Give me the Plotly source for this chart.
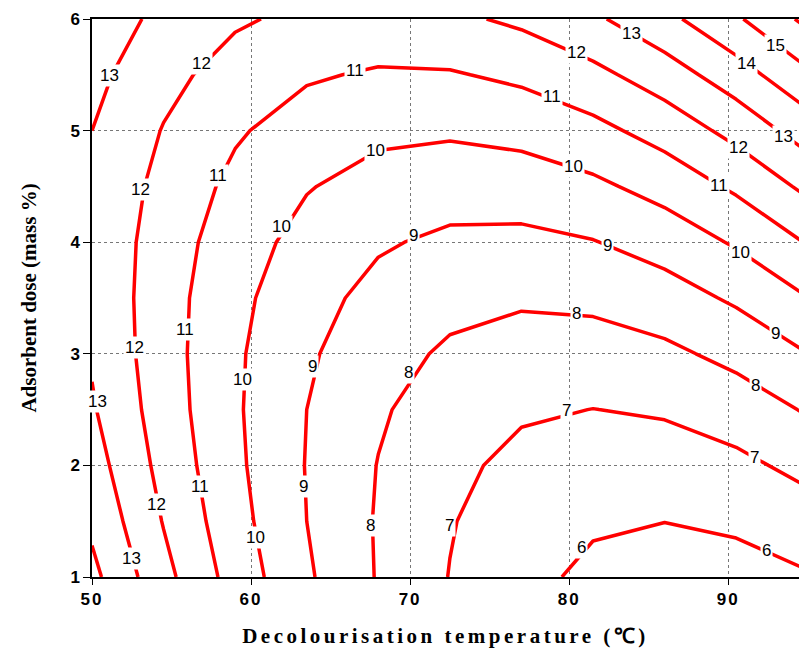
import plotly.graph_objects as go

# Decolourisation temperature grid (°C)
temperature = [50, 54.5, 59, 63.5, 68, 72.5, 77, 81.5, 86, 90.5, 95]
# Adsorbent dose grid (mass %)
dose = [1, 1.5, 2, 2.5, 3, 3.5, 4, 4.5, 5, 5.5, 6]

z_dose_1_0 = [14.26, 12.30, 10.59, 9.14, 7.93, 6.97, 6.26, 5.80, 5.59, 5.63, 5.92]
z_dose_1_5 = [13.80, 11.95, 10.35, 9.00, 7.91, 7.06, 6.46, 6.11, 6.01, 6.16, 6.56]
z_dose_2_0 = [13.42, 11.69, 10.20, 8.96, 7.97, 7.23, 6.74, 6.50, 6.51, 6.77, 7.28]
z_dose_2_5 = [13.10, 11.51, 10.13, 9.00, 8.12, 7.50, 7.12, 6.99, 7.11, 7.48, 8.09]
z_dose_3_0 = [12.90, 11.42, 10.15, 9.14, 8.37, 7.85, 7.58, 7.56, 7.79, 8.27, 8.99]
z_dose_3_5 = [12.81, 11.42, 10.26, 9.35, 8.70, 8.29, 8.13, 8.22, 8.56, 9.15, 9.98]
z_dose_4_0 = [12.79, 11.51, 10.46, 9.66, 9.11, 8.81, 8.76, 8.96, 9.41, 10.11, 11.06]
z_dose_4_5 = [12.85, 11.69, 10.75, 10.06, 9.62, 9.43, 9.49, 9.80, 10.36, 11.17, 12.23]
z_dose_5_0 = [13.00, 11.95, 11.12, 10.54, 10.21, 10.13, 10.30, 10.72, 11.39, 12.31, 13.48]
z_dose_5_5 = [13.27, 12.30, 11.58, 11.11, 10.89, 10.92, 11.20, 11.73, 12.51, 13.54, 14.82]
z_dose_6_0 = [13.60, 12.74, 12.13, 11.77, 11.66, 11.80, 12.19, 12.83, 13.72, 14.86, 16.25]

# Contour labels (level, temperature, dose)
label_level = [13, 12, 11, 12, 13, 15, 14, 13, 12, 11, 10, 9, 8, 7, 6,
               11, 10, 9, 8, 7, 6, 10, 9, 8, 7, 8, 9, 9, 10, 10, 10,
               11, 11, 11, 12, 12, 12, 13, 13]
label_temp = [51.12, 56.86, 66.55, 80.47, 83.94, 93.0, 91.18, 93.5, 90.62, 89.42, 90.80, 93.0, 91.7, 91.63, 92.39,
              78.92, 80.3, 82.44, 80.43, 79.86, 80.8, 67.82, 70.22, 69.9, 72.48, 67.49, 63.84, 63.27, 61.94, 59.49, 60.25,
              57.93, 55.85, 56.79, 53.08, 52.70, 54.08, 50.35, 52.48]
label_dose = [5.497, 5.604, 5.541, 5.703, 5.873, 5.766, 5.604, 4.95, 4.848, 4.506, 3.906, 3.18, 2.72, 2.075, 1.235,
              5.307, 4.68, 3.97, 3.357, 2.496, 1.26, 4.825, 4.06, 2.83, 1.459, 1.459, 2.882, 1.807, 4.145, 2.767, 1.353,
              4.594, 3.215, 1.807, 4.469, 3.054, 1.647, 2.57, 1.17]

x_ticks = [50, 60, 70, 80, 90]
y_ticks = [1, 2, 3, 4, 5, 6]

z = [z_dose_1_0, z_dose_1_5, z_dose_2_0, z_dose_2_5, z_dose_3_0, z_dose_3_5,
     z_dose_4_0, z_dose_4_5, z_dose_5_0, z_dose_5_5, z_dose_6_0]

fig = go.Figure()
fig.add_trace(go.Contour(
    x=temperature, y=dose, z=z,
    contours=dict(start=6, end=16, size=1, coloring="none", showlabels=False),
    line=dict(color="#ff0000", width=3.5, smoothing=0),
    showscale=False,
    hoverinfo="skip",
))

label_font = dict(family="Liberation Sans, Arial, sans-serif", size=17, color="black")
for lv, tx, dy in zip(label_level, label_temp, label_dose):
    fig.add_annotation(x=tx, y=dy, text=str(lv), showarrow=False, font=label_font,
                       bgcolor="white", borderpad=1, xref="x", yref="y")

tick_font = dict(family="Liberation Sans, Arial, sans-serif", size=17, color="black")
title_font = dict(family="Liberation Serif, Times New Roman, serif", size=21, color="black")

fig.update_layout(
    width=799, height=654,
    margin=dict(l=92, r=0, t=19, b=77, autoexpand=False),
    paper_bgcolor="white", plot_bgcolor="white",
    showlegend=False,
    xaxis=dict(
        range=[50, 94.45], tickvals=x_ticks, ticktext=[f"<b>{v}</b>" for v in x_ticks],
        tickfont=tick_font, ticks="outside", ticklen=6, tickcolor="black",
        showline=True, linecolor="black", linewidth=1.5, mirror=True,
        showgrid=True, gridcolor="#777777", griddash="dot", gridwidth=1,
        zeroline=False, automargin=False,
        title=dict(text="<b>Decolourisation temperature (℃)</b>", font=title_font, standoff=20),
    ),
    yaxis=dict(
        range=[1, 6], tickvals=y_ticks, ticktext=[f"<b>{v}</b>" for v in y_ticks],
        tickfont=tick_font, ticks="outside", ticklen=7, tickcolor="black",
        showline=True, linecolor="black", linewidth=1.5,
        showgrid=True, gridcolor="#777777", griddash="dot", gridwidth=1,
        zeroline=False, automargin=False,
        title=dict(text="<b>Adsorbent dose (mass %)</b>", font=title_font, standoff=28),
    ),
)

page_style = (
    "document.body.style.margin='0';"
    "document.body.style.overflow='hidden';"
    "var s=document.createElement('style');"
    "s.innerHTML='.xtitle{letter-spacing:3.5px} .xtick text{letter-spacing:2px}';"
    "document.head.appendChild(s);"
)

fig.write_html("out.html", post_script=page_style, config={"displayModeBar": False})
